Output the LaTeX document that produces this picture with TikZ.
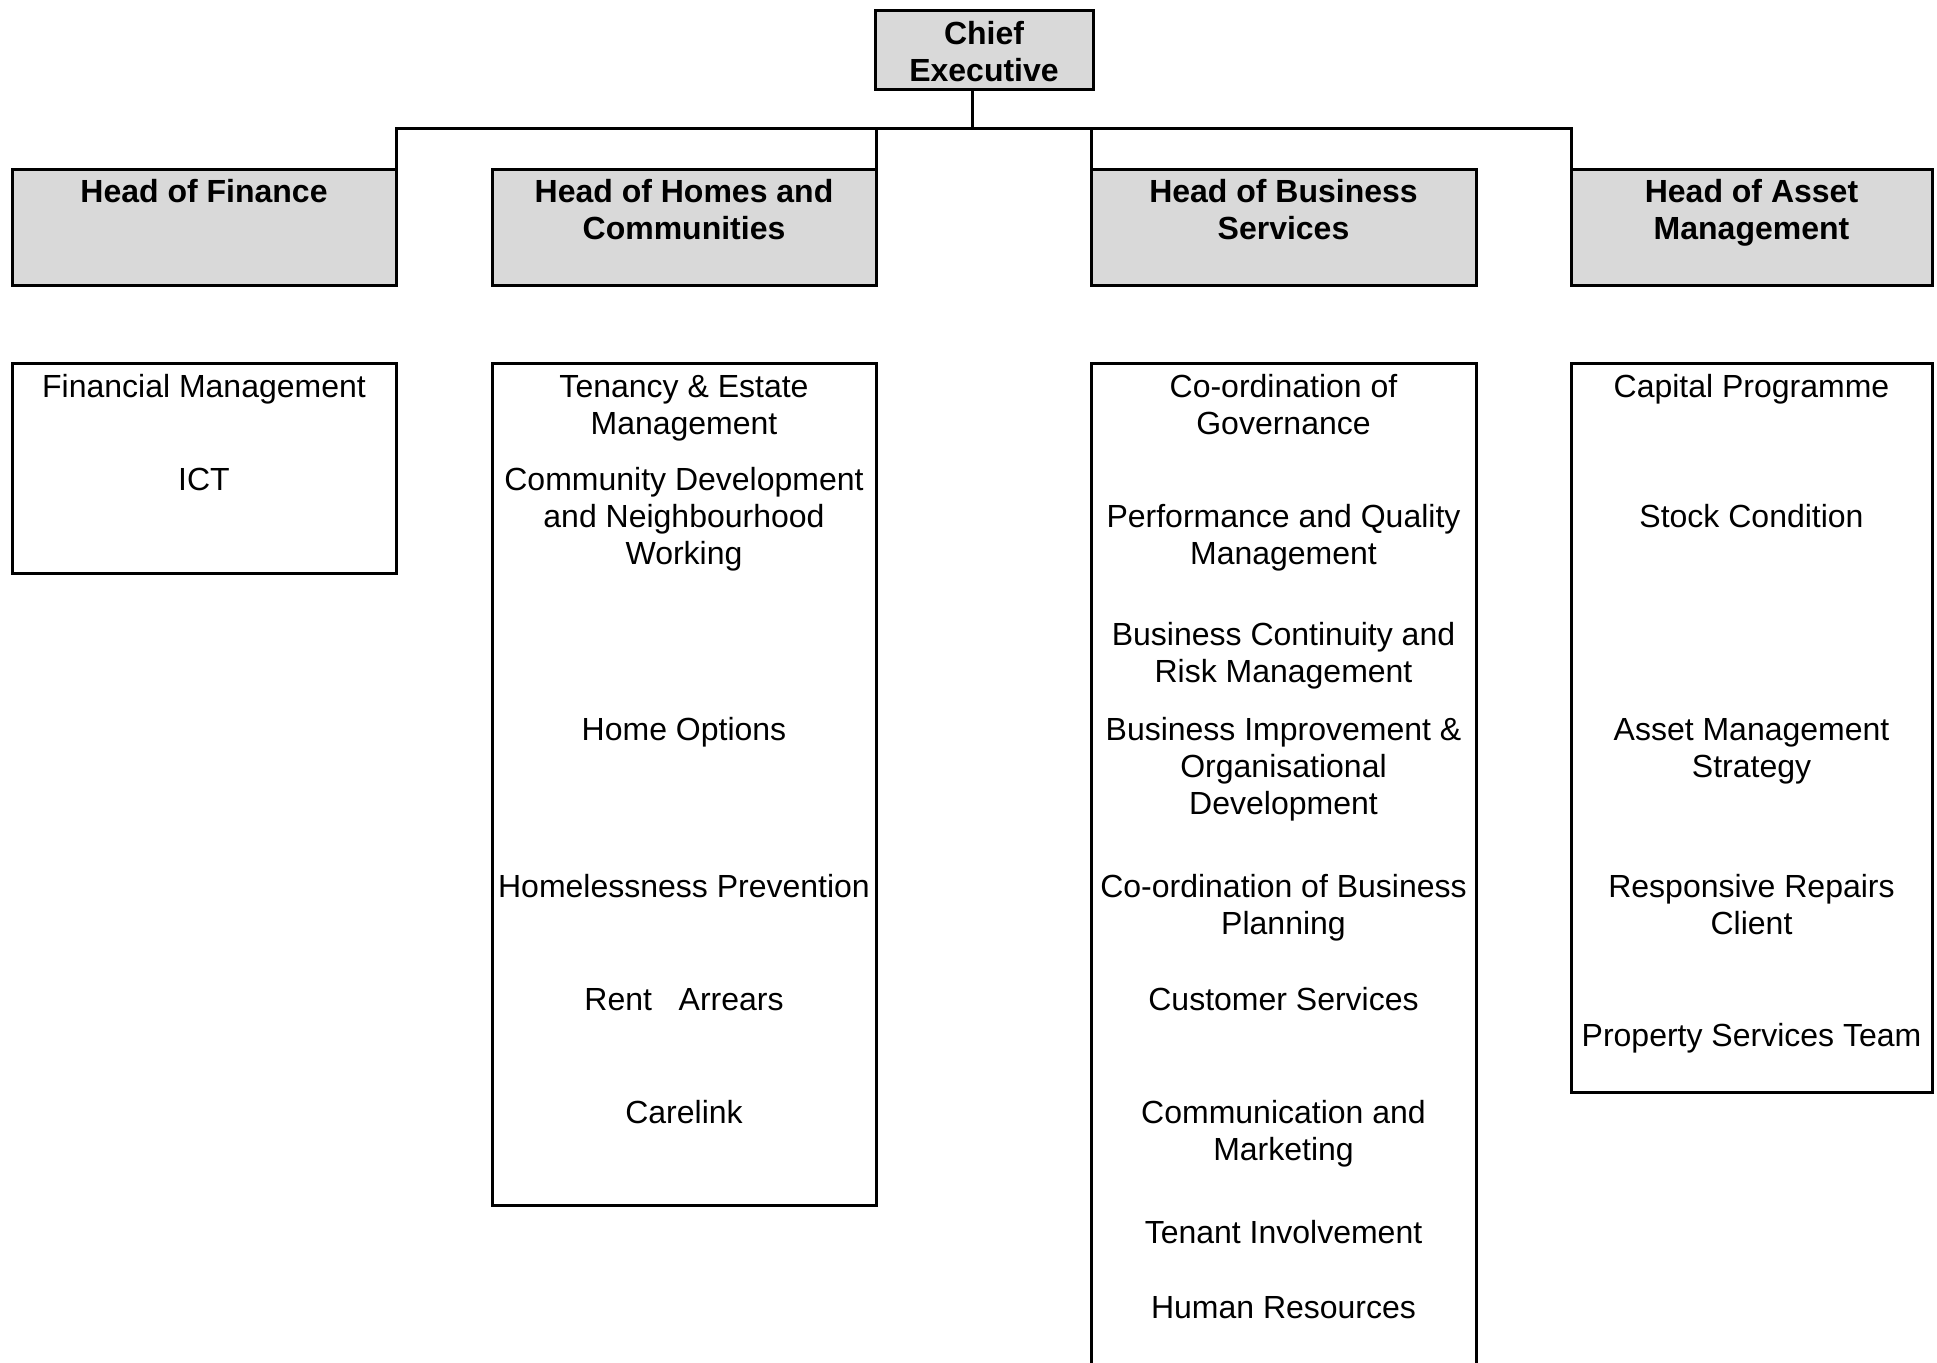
\documentclass[tikz,border=0pt]{standalone}
\usepackage{fontspec}
\setmainfont{Liberation Sans}
\definecolor{headgray}{RGB}{217,217,217}
\newcommand\stk[1]{\begin{tabular}[t]{@{}c@{}}#1\end{tabular}}
\begin{document}
\begin{tikzpicture}[x=0.5pt,y=-0.5pt,
  box/.style={draw=black, line width=1.5pt, inner sep=0pt, outer sep=0pt},
  headbox/.style={box, fill=headgray},
  txt/.style={anchor=base, inner sep=0pt, outer sep=0pt, font=\fontsize{16}{18.5}\selectfont},
  btxt/.style={txt, font=\fontsize{16}{18.5}\selectfont\bfseries},
  conn/.style={draw=black, line width=1.5pt}]
\useasboundingbox (0,0) rectangle (1937,1362);
\fill[white] (0,0) rectangle (1937,1362);
\clip (0,0) rectangle (1937,1362);

% top
\node[headbox, minimum width=109pt, minimum height=39.5pt] (ceo) at (984,49.5) {};
\node[btxt] (ceot) at (984,44) {\stk{Chief\\Executive}};

% heads
\node[headbox, minimum width=192pt, minimum height=58pt] (hfin) at (204,227) {};
\node[headbox, minimum width=192pt, minimum height=58pt] (hhom) at (684,227) {};
\node[headbox, minimum width=192.5pt, minimum height=58pt] (hbus) at (1283.5,227) {};
\node[headbox, minimum width=180.5pt, minimum height=58pt] (hass) at (1751.5,227) {};
\node[btxt] (hfint) at (204,202) {\stk{Head of Finance}};
\node[btxt] (hhomt) at (684,202) {\stk{Head of Homes and\\Communities}};
\node[btxt] (hbust) at (1283.5,202) {\stk{Head of Business\\Services}};
\node[btxt] (hasst) at (1751.5,202) {\stk{Head of Asset\\Management}};

% sub boxes
\node[box, minimum width=192pt, minimum height=105pt] (sfin) at (204,468) {};
\node[box, minimum width=192pt, minimum height=421pt] (shom) at (684,784) {};
\node[box, minimum width=192.5pt, minimum height=518.5pt] (sbus) at (1283.5,881.5) {};
\node[box, minimum width=180.5pt, minimum height=364.5pt] (sass) at (1751.5,727.5) {};

% connectors
\coordinate (bj) at (972,128);
\draw[conn] (ceo.south -| bj) -- (bj);
\draw[conn] (hfin.north east) -- (hfin.north east |- bj) -- (hass.north west |- bj) -- (hass.north west);
\draw[conn] (hhom.north east) -- (hhom.north east |- bj);
\draw[conn] (hbus.north west) -- (hbus.north west |- bj);

% finance items
\node[txt] (f1) at (204,397) {\stk{Financial Management}};
\node[txt] (f2) at (204,490) {\stk{ICT}};

% homes items
\node[txt] (h1) at (684,397) {\stk{Tenancy \& Estate\\Management}};
\node[txt] (h2) at (684,490) {\stk{Community Development\\and Neighbourhood\\Working}};
\node[txt] (h3) at (684,740) {\stk{Home Options}};
\node[txt] (h4) at (684,897) {\stk{Homelessness Prevention}};
\node[txt] (h5) at (684,1010) {\stk{Rent\ \ \ Arrears}};
\node[txt] (h6) at (684,1123) {\stk{Carelink}};

% business items
\node[txt] (b1) at (1283.5,397) {\stk{Co-ordination of\\Governance}};
\node[txt] (b2) at (1283.5,527) {\stk{Performance and Quality\\Management}};
\node[txt] (b3) at (1283.5,645) {\stk{Business Continuity and\\Risk Management}};
\node[txt] (b4) at (1283.5,740) {\stk{Business Improvement \&\\Organisational\\Development}};
\node[txt] (b5) at (1283.5,897) {\stk{Co-ordination of Business\\Planning}};
\node[txt] (b6) at (1283.5,1010) {\stk{Customer Services}};
\node[txt] (b7) at (1283.5,1123) {\stk{Communication and\\Marketing}};
\node[txt] (b8) at (1283.5,1243) {\stk{Tenant Involvement}};
\node[txt] (b9) at (1283.5,1318) {\stk{Human Resources}};

% asset items
\node[txt] (a1) at (1751.5,397) {\stk{Capital Programme}};
\node[txt] (a2) at (1751.5,527) {\stk{Stock Condition}};
\node[txt] (a3) at (1751.5,740) {\stk{Asset Management\\Strategy}};
\node[txt] (a4) at (1751.5,897) {\stk{Responsive Repairs\\Client}};
\node[txt] (a5) at (1751.5,1046) {\stk{Property Services Team}};
\end{tikzpicture}
\end{document}
